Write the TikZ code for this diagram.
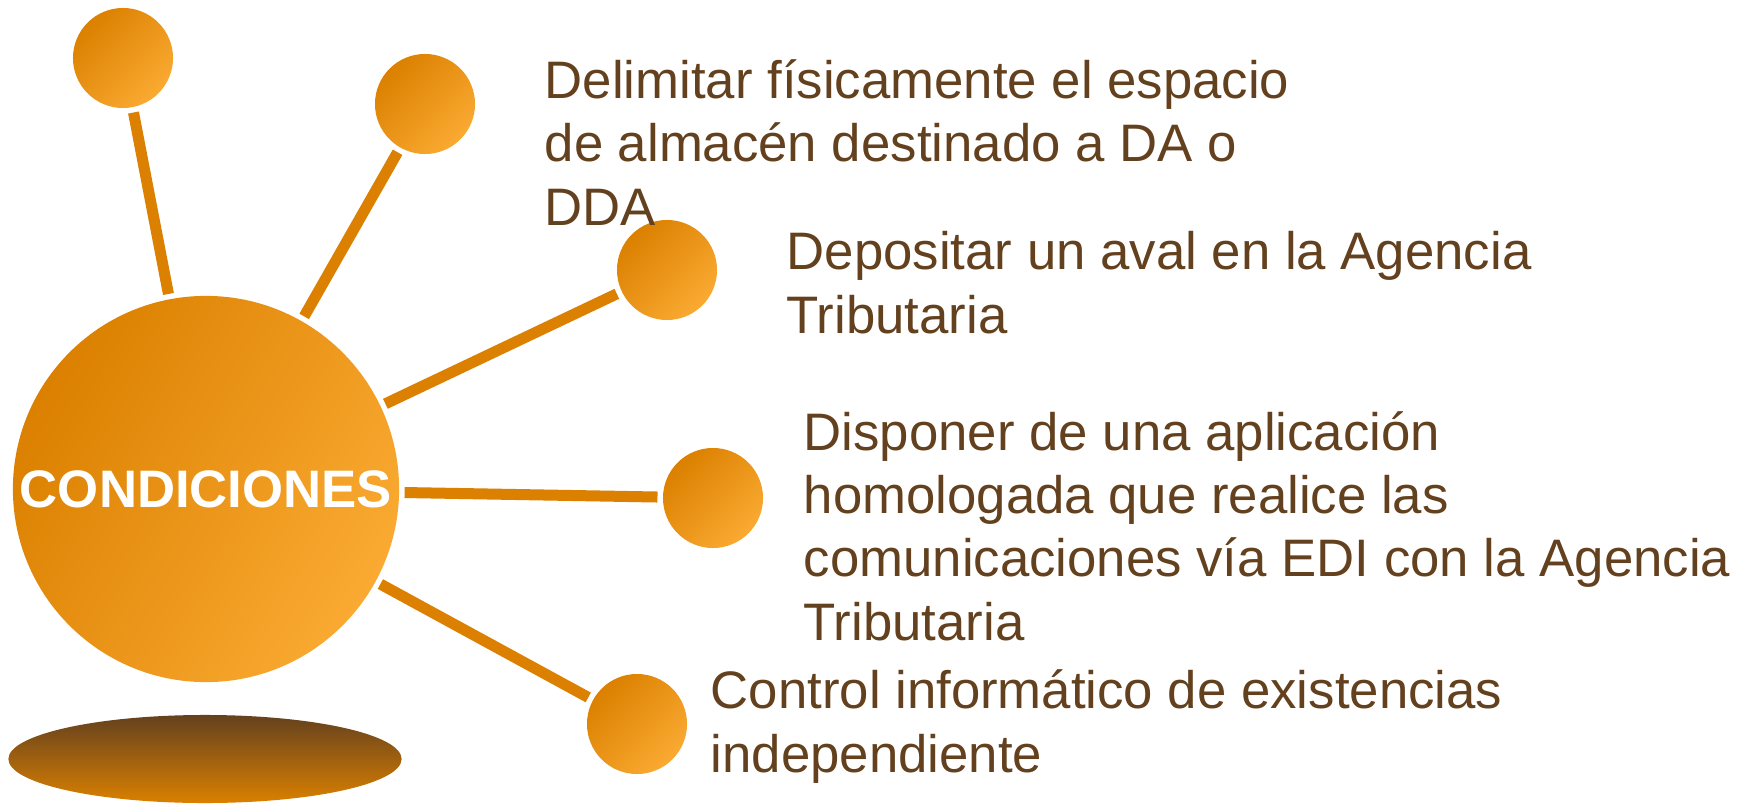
\documentclass[tikz,border=0pt]{standalone}
\usepackage{fontspec}
\setmainfont{Liberation Sans}
\usetikzlibrary{shapes.geometric}

\definecolor{arancio}{RGB}{219,128,0}
\definecolor{arancioChiaro}{RGB}{250,170,50}
\definecolor{marrone}{RGB}{100,65,30}

\begin{document}
\begin{tikzpicture}[x=0.01cm, y=-0.01cm,
  palla/.style={circle, inner sep=0pt, outer sep=0.055cm, minimum size=1cm,
    top color=arancio, bottom color=arancioChiaro, shading angle=45},
  pallone/.style={circle, inner sep=0pt, outer sep=0.055cm, minimum size=3.86cm,
    top color=arancio, bottom color=arancioChiaro, shading angle=60,
    text=white, font=\fontsize{15}{18}\selectfont\bfseries},
  asta/.style={draw=arancio, line width=0.11cm},
  testo/.style={text=marrone, align=left, inner sep=0pt, anchor=base west,
    font=\fontsize{15}{18}\selectfont}]

\useasboundingbox (0,0) rectangle (1748,806);

% Ombra
\node[ellipse, minimum width=3.93cm, minimum height=0.88cm, inner sep=0pt,
  top color=marrone, bottom color=arancio] (ombra) at (205,759) {};

% Sfera centrale
\node[pallone] (cond) at (206,489) {CONDICIONES};

% Sfere piccole
\node[palla] (p1) at (123,58) {};
\node[palla] (p2) at (425,104) {};
\node[palla] (p3) at (667,270) {};
\node[palla] (p4) at (713,498) {};
\node[palla] (p5) at (637,724) {};

% Aste
\foreach \p in {p1,p2,p3,p4,p5}
  \draw[asta] (cond) -- (\p);

% Testi (base = ultima riga)
\node[testo] (t1) at (544,225) {Delimitar físicamente el espacio\\de almacén destinado a DA o\\DDA};
\node[testo] (t2) at (786,333) {Depositar un aval en la Agencia\\Tributaria};
\node[testo] (t3) at (803,640) {Disponer de una aplicación\\homologada que realice las\\comunicaciones vía EDI con la Agencia\\Tributaria};
\node[testo] (t4) at (710,772) {Control informático de existencias\\independiente};

\end{tikzpicture}
\end{document}
